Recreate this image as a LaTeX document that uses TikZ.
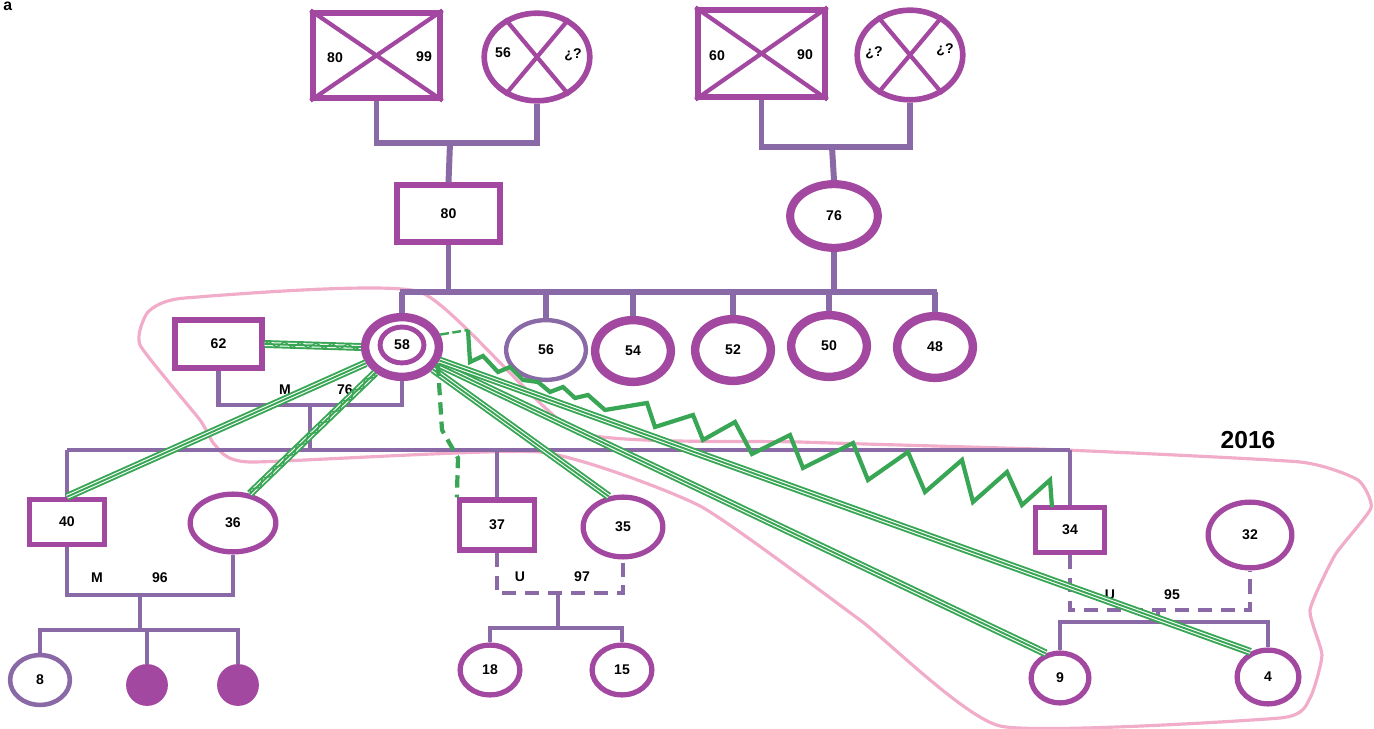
\documentclass[tikz,border=0pt]{standalone}
\usepackage{fontspec}
\setmainfont{Liberation Sans}
\usetikzlibrary{shapes.geometric,decorations.pathmorphing}
\definecolor{pm}{RGB}{163,72,160}
\definecolor{pg}{RGB}{138,106,166}
\definecolor{gr}{RGB}{56,166,84}
\definecolor{pk}{RGB}{240,172,200}
\begin{document}
\begin{tikzpicture}[x=0.02cm,y=-0.02cm,
  txt/.style={font=\bfseries\fontsize{8}{9}\selectfont},
  lbl/.style={txt, inner sep=0pt},
  pbox/.style n args={2}{rectangle, draw=pm, line width=3.2pt, minimum width=#1*0.5669pt, minimum height=#2*0.5669pt, inner sep=0pt, txt},
  pell/.style n args={3}{ellipse, draw=pm, line width=#3, minimum width=#1*0.5669pt, minimum height=#2*0.5669pt, inner sep=0pt, txt},
  dot/.style={circle, fill=pm, minimum size=42*0.5669pt, inner sep=0pt},
  crossln/.style={draw=pm, line width=2.4pt},
  con/.style={draw=pg, line width=3.4pt},
  conl/.style={draw=pg, line width=2.6pt},
  dcon/.style={conl, dash pattern=on 8pt off 5pt},
  tri/.style={draw=gr, line width=4.5pt, postaction={draw=white, line width=2.3pt}, postaction={draw=gr, line width=1.1pt}},
  trizz/.style={tri, postaction={draw=gr, line width=0.8pt, decorate, decoration={zigzag, segment length=9pt, amplitude=1.6pt}}},
  gdash/.style={draw=gr, line width=2.4pt, dash pattern=on 7pt off 4pt},
  hostile/.style={draw=gr, line width=2.4pt, line join=miter},
  pinkline/.style={draw=pk, line width=1.8pt}
]
\useasboundingbox (0,0) rectangle (1374,729);

% outline
\draw[pinkline] plot[smooth cycle, tension=0.3] coordinates {
 (420,292) (577,432) (800,442) (1065,450) (1300,462) (1358,480) (1371,508)
 (1335,555) (1310,610) (1322,655) (1310,698) (1280,718) (1000,726) (860,620)
 (700,506) (540,452) (250,462) (215,445) (200,420) (140,345) (148,312) (185,298)};

\node[font=\bfseries\fontsize{9}{10}\selectfont, anchor=north west, inner sep=0pt] (lbla) at (3,2) {a};

% grandparents left
\node[pbox={127}{85}] (gf1) at (376.5,55.5) {};
\draw[crossln] (gf1.north west) -- (gf1.south east) (gf1.north east) -- (gf1.south west);
\node[lbl] (t80a) at (335,58) {80};
\node[lbl] (t99) at (424,57) {99};
\node[pell={106}{88}{3.2pt}] (gm1) at (537,57) {};
\draw[crossln] (gm1.130) -- (gm1.-50) (gm1.50) -- (gm1.-130);
\node[lbl] (t56a) at (503,53) {56};
\node[lbl] (tqa) at (573,55) {¿?};
\coordinate (c1) at (450,143);
\draw[con] (gf1.south) |- (c1) -| (gm1.south);
\node[pbox={103}{57}] (f80) at (448.5,213.5) {80};
\draw[con] (c1) -- (f80.north);

% grandparents right
\node[pbox={127}{87}] (gf2) at (761.5,53.5) {};
\draw[crossln] (gf2.north west) -- (gf2.south east) (gf2.north east) -- (gf2.south west);
\node[lbl] (t60) at (717,56) {60};
\node[lbl] (t90) at (805,55) {90};
\node[pell={106}{90}{3.2pt}] (gm2) at (910,55) {};
\draw[crossln] (gm2.130) -- (gm2.-50) (gm2.50) -- (gm2.-130);
\node[lbl] (tqb) at (874,53) {¿?};
\node[lbl] (tqc) at (945,50) {¿?};
\coordinate (c2) at (832,147);
\draw[con] (gf2.south) |- (c2) -| (gm2.south);
\node[pell={88}{64}{4.6pt}] (m76) at (834,216) {76};
\draw[con] (c2) -- (m76.north);

% sibship
\coordinate (sibL) at (400,292);
\coordinate (sibR) at (937,292);
\draw[con] (f80.south) -- (f80.south |- sibL);
\draw[con] (m76.south) -- (m76.south |- sibL);
\draw[con] (sibL) -- (sibR);

\node[pell={74}{60}{4.8pt}] (p58) at (402,347) {};
\node[pell={44}{36}{2.8pt}] (p58i) at (402,345) {58};
\node[pell={80}{60}{2.5pt}, draw=pg] (s56) at (546,350) {56};
\node[pell={76}{62}{4.8pt}] (s54) at (633,351) {54};
\node[pell={76}{62}{4.8pt}] (s52) at (733,350) {52};
\node[pell={76}{62}{4.8pt}] (s50) at (829,346) {50};
\node[pell={76}{62}{4.8pt}] (s48) at (935,347) {48};
\foreach \n in {p58,s56,s54,s52,s50,s48} \draw[con] (\n.north) -- (\n.north |- sibL);

% partner 62
\node[pbox={87}{48}] (h62) at (218.5,344) {62};
\coordinate (mc1) at (310,405);
\draw[conl] (h62.south) |- (mc1) -| (p58.south);
\node[lbl] (tM1) at (285,390) {M};
\node[lbl] (t76b) at (345,390) {76};
\coordinate (chL) at (67,450);
\coordinate (chR) at (1070,450);
\draw[conl] (mc1) -- (mc1 |- chL);
\draw[conl] (chL) -- (chR);

% generation 3
\node[pbox={75}{45}] (s40) at (67,522) {40};
\node[pbox={75}{50}] (s37) at (497,525) {37};
\node[pbox={69}{45}] (s34) at (1070,530) {34};
\foreach \n in {s40,s37,s34} \draw[conl] (\n.north) -- (\n.north |- chL);
\node[pell={86}{58}{3pt}] (w36) at (233,523) {36};
\node[pell={80}{60}{3pt}] (w35) at (623,527) {35};
\node[pell={84}{66}{3pt}] (w32) at (1250,535) {32};

% 40 + 36
\coordinate (mc2) at (140,595);
\draw[conl] (s40.south) |- (mc2) -| (w36.south);
\node[lbl] (tM2) at (97,578) {M};
\node[lbl] (t96) at (160,578) {96};
\coordinate (ch2) at (140,630);
\draw[conl] (mc2) -- (ch2);
\node[pell={60}{50}{2.6pt}, draw=pg] (k8) at (40,680) {8};
\node[dot] (kf1) at (147,685) {};
\node[dot] (kf2) at (238,685) {};
\draw[conl] (k8.north) |- (ch2) -| (kf2.north);
\draw[conl] (kf1.north) -- (kf1.north |- ch2);

% 37 + 35
\coordinate (uc2) at (558,593);
\draw[dcon] (s37.south) |- (uc2) -| (w35.south);
\node[lbl] (tU1) at (520,577) {U};
\node[lbl] (t97) at (582,577) {97};
\coordinate (ch3) at (558,628);
\draw[conl] (uc2) -- (ch3);
\node[pell={60}{50}{3pt}] (k18) at (490,670) {18};
\node[pell={60}{50}{3pt}] (k15) at (622,670) {15};
\draw[conl] (k18.north) |- (ch3) -| (k15.north);

% 34 + 32
\coordinate (uc3) at (1158,610);
\draw[dcon] (s34.south) |- (uc3) -| (w32.south);
\node[lbl] (tU2) at (1110,595) {U};
\node[lbl] (t95) at (1172,595) {95};
\coordinate (ch4) at (1158,622);
\draw[conl] (uc3) -- (ch4);
\node[pell={58}{50}{3pt}] (k9) at (1060,678) {9};
\node[pell={62}{54}{3pt}] (k4) at (1268,677) {4};
\draw[conl] (k9.north) |- (ch4) -| (k4.north);

% emotional relations
\draw[trizz] (h62.east) -- (p58.west);
\draw[tri] (p58) -- (s40.north);
\draw[trizz] (p58) -- (w36.60);
\draw[tri] (p58) -- (w35.115);
\draw[tri] (p58) -- (k9.120);
\draw[tri] (p58) -- (k4.125);
\coordinate (gd1) at (442,430);
\coordinate (gd2) at (458,458);
\draw[gdash] (p58.-25) -- (gd1) -- (gd2) -- (s37.north west);
\coordinate (zzA) at (468,330);
\coordinate (zzE) at (1052,507);
\draw[draw=gr, line width=1.4pt, dash pattern=on 5pt off 2pt] (p58.18) -- (zzA);
\draw[hostile] (zzA) -- (470,362) -- (483,356) -- (498,372) -- (510,367) -- (523,380)
  -- (538,382) -- (550,392) -- (563,387) -- (575,398) -- (588,395) -- (605,410)
  -- (647,403) -- (655,427) -- (693,415) -- (703,440) -- (735,422) -- (752,454)
  -- (790,435) -- (803,468) -- (853,443) -- (868,480) -- (908,452) -- (925,492)
  -- (962,460) -- (973,502) -- (1007,472) -- (1022,505) -- (1050,480) -- (zzE);

\node[font=\bfseries\fontsize{14}{16}\selectfont, inner sep=0pt] (yr) at (1248,440) {2016};
\end{tikzpicture}
\end{document}
